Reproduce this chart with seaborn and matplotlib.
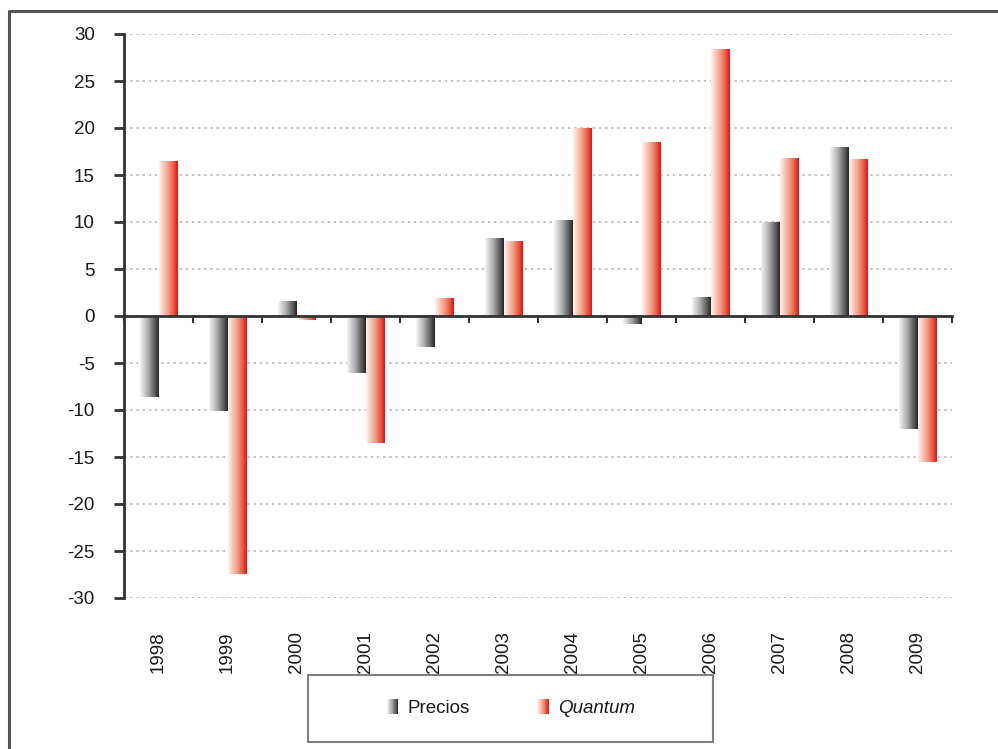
import numpy as np
import pandas as pd
import matplotlib
matplotlib.use("Agg")
import matplotlib.pyplot as plt
import seaborn as sns
from matplotlib.colors import LinearSegmentedColormap
from matplotlib.legend_handler import HandlerBase
from matplotlib.patches import Rectangle
from matplotlib.lines import Line2D

# Annual variation (%) of export prices and volumes
years = ["1998", "1999", "2000", "2001", "2002", "2003",
         "2004", "2005", "2006", "2007", "2008", "2009"]
precios = [-8.6, -10.1, 1.5, -6.1, -3.3, 8.2, 10.2, -0.9, 2.0, 9.9, 17.9, -12.0]
quantum = [16.4, -27.4, -0.4, -13.5, 1.9, 7.9, 19.9, 18.5, 28.3, 16.8, 16.6, -15.5]
series = ["Precios", "Quantum"]
y_ticks = list(range(-30, 31, 5))

sns.set_theme(style="white")
plt.rcParams["font.family"] = ["Liberation Sans", "DejaVu Sans"]
plt.rcParams["axes.unicode_minus"] = False

# horizontal shading used inside each bar (light on the left, saturated on the right)
cmap_p = LinearSegmentedColormap.from_list(
    "precios", [(0, "#f6f6f6"), (0.45, "#a8a8a8"), (0.8, "#585858"), (1, "#242424")])
cmap_q = LinearSegmentedColormap.from_list(
    "quantum", [(0, "#fff3ee"), (0.45, "#f4a58e"), (0.8, "#e9533c"), (1, "#de1118")])
cmaps = [cmap_p, cmap_q]

fig = plt.figure(figsize=(9.98, 7.49), dpi=100)
ax = fig.add_axes([124 / 998, 1 - 598 / 749, (952 - 124) / 998, (598 - 34) / 749])

df = pd.DataFrame({
    "year": years * 2,
    "series": [series[0]] * len(years) + [series[1]] * len(years),
    "value": precios + quantum,
})
sns.barplot(data=df, x="year", y="value", hue="series", order=years,
            hue_order=series, width=0.54, gap=0, palette=["#333333", "#e41a1c"],
            saturation=1, errorbar=None, legend=False, ax=ax)

grad = np.linspace(0, 1, 128).reshape(1, -1)
for cont, cmap in zip(ax.containers, cmaps):
    for bar in cont:
        x0, w = bar.get_x(), bar.get_width()
        y0, h = bar.get_y(), bar.get_height()
        lo, hi = min(y0, y0 + h), max(y0, y0 + h)
        ax.imshow(grad, extent=[x0, x0 + w, lo, hi], origin="lower",
                  aspect="auto", cmap=cmap, interpolation="bilinear", zorder=2)
        bar.set_visible(False)

ax.set_xlim(-0.5, len(years) - 0.5)
ax.set_ylim(-30, 30)
ax.set_xlabel("")
ax.set_ylabel("")

# axes lines
for s in ("top", "right"):
    ax.spines[s].set_visible(False)
ax.spines["left"].set_color("#333333")
ax.spines["left"].set_linewidth(2)
ax.spines["bottom"].set_position(("data", 0))
ax.spines["bottom"].set_color("#333333")
ax.spines["bottom"].set_linewidth(2)
ax.spines["bottom"].set_zorder(3)

ax.set_xticks(np.arange(-0.5, len(years), 1))
ax.tick_params(axis="x", bottom=True, direction="out", length=5, width=1.5,
               color="#333333", labelbottom=False)
ax.set_yticks(y_ticks)
ax.tick_params(axis="y", left=True, direction="out", length=7, width=2,
               color="#333333", pad=14, labelsize=13.5, labelcolor="#1a1a1a")

ax.yaxis.grid(True, color="#b8b8b8", linestyle=(0, (1.5, 2.2)), linewidth=1.2)
ax.xaxis.grid(False)
ax.set_axisbelow(True)

# year labels along the bottom of the plot area
sec = ax.secondary_xaxis("bottom")
sec.set_xticks(range(len(years)), labels=years)
sec.tick_params(length=0, pad=24, labelsize=13.5, rotation=90, labelcolor="#1a1a1a")
sec.spines["bottom"].set_visible(False)

# outer frame (left and top edges)
fig.add_artist(Line2D([9 / 998, 9 / 998, 1], [0, 1 - 11 / 749, 1 - 11 / 749],
                      transform=fig.transFigure, color="#555555", lw=2.2))

# legend box
fig.add_artist(Rectangle((308 / 998, 1 - 742 / 749), (713 - 308) / 998, (742 - 675) / 749,
                         transform=fig.transFigure, fill=False, ec="#808080", lw=1.5))


class GradientHandler(HandlerBase):
    def __init__(self, cmap, n=14):
        super().__init__()
        self.cmap = cmap
        self.n = n

    def create_artists(self, legend, orig_handle, xdescent, ydescent,
                       width, height, fontsize, trans):
        sw = width / self.n
        arts = []
        for i in range(self.n):
            arts.append(Rectangle((-xdescent + i * sw, -ydescent), sw * 1.05, height,
                                  facecolor=self.cmap((i + 0.5) / self.n),
                                  edgecolor="none", transform=trans))
        return arts


handles = [Rectangle((0, 0), 1, 1), Rectangle((0, 0), 1, 1)]
leg = fig.legend(handles, series,
                 handler_map={handles[0]: GradientHandler(cmap_p),
                              handles[1]: GradientHandler(cmap_q)},
                 loc="center", bbox_to_anchor=(511 / 998, 1 - 708 / 749),
                 ncol=2, frameon=False, fontsize=13.5, handlelength=0.6,
                 handleheight=0.8, handletextpad=0.5, columnspacing=3.6)
leg.get_texts()[1].set_style("italic")
for t in leg.get_texts():
    t.set_color("#1a1a1a")

fig.savefig("out.png", dpi=100)
